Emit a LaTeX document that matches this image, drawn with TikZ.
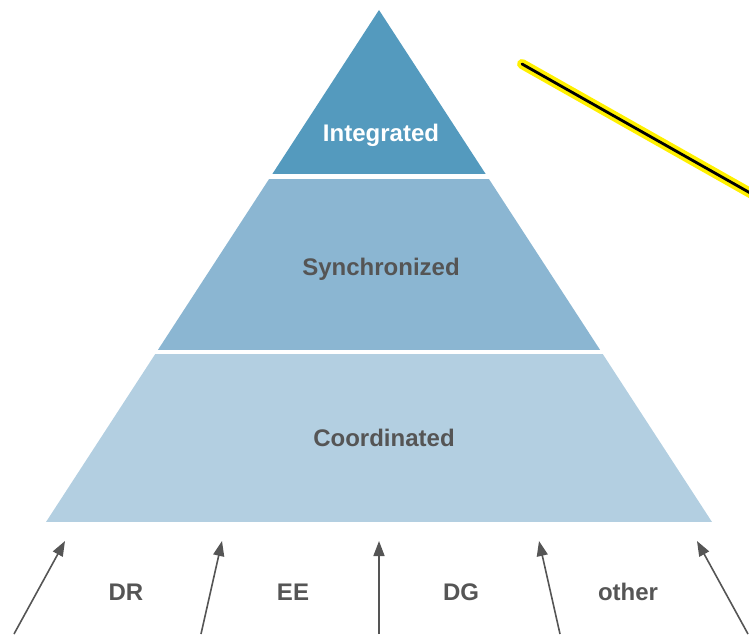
\documentclass[tikz,border=0pt]{standalone}
\usepackage{fontspec}
\setmainfont{Liberation Sans}
\usetikzlibrary{arrows.meta}
\definecolor{tierA}{RGB}{84,154,190}
\definecolor{tierB}{RGB}{139,182,210}
\definecolor{tierC}{RGB}{179,207,225}
\definecolor{labelgray}{RGB}{85,85,85}
\definecolor{arrowgray}{RGB}{85,85,85}
\definecolor{glow}{RGB}{255,240,0}
\tikzset{
  tierlabel/.style={font=\bfseries\fontsize{24}{28}\selectfont, text=labelgray},
  inputlabel/.style={font=\bfseries\fontsize{24}{28}\selectfont, text=labelgray},
  inputarrow/.style={draw=arrowgray, line width=1.6pt, -{Triangle[length=15pt,width=11pt]}},
}
\begin{document}
\begin{tikzpicture}[x=1pt,y=-1pt]
\useasboundingbox (0,0) rectangle (749,634);
% pyramid: apex (379,10), base from 46 to 712 at y=522
\begin{scope}
  \clip (379,10) -- (712,522) -- (46,522) -- cycle;
  \fill[tierA] (0,0) rectangle (749,174);
  \fill[tierB] (0,179) rectangle (749,350);
  \fill[tierC] (0,354) rectangle (749,522);
\end{scope}
\node[tierlabel, text=white] (integrated) at (381,135) {Integrated};
\node[tierlabel] (synchronized) at (381,269) {Synchronized};
\node[tierlabel] (coordinated) at (384,438) {Coordinated};
% inputs from below
\coordinate (a1s) at (14,634);  \coordinate (a1e) at (65,541);
\coordinate (a2s) at (201,634); \coordinate (a2e) at (222,541);
\coordinate (a3s) at (379,634); \coordinate (a3e) at (379,541);
\coordinate (a4s) at (560,634); \coordinate (a4e) at (539,541);
\coordinate (a5s) at (748,634); \coordinate (a5e) at (697,541);
\foreach \i in {1,...,5} { \draw[inputarrow] (a\i s) -- (a\i e); }
\node[inputlabel] (dr) at (126,592) {DR};
\node[inputlabel] (ee) at (293,592) {EE};
\node[inputlabel] (dg) at (461,592) {DG};
\node[inputlabel] (other) at (628,592) {other};
% highlighted stroke
\coordinate (hs) at (522,64);
\coordinate (he) at (752,194);
\draw[glow, line width=10pt, line cap=round] (hs) -- (he);
\draw[black, line width=2.8pt, line cap=round] (hs) -- (he);
\end{tikzpicture}
\end{document}
